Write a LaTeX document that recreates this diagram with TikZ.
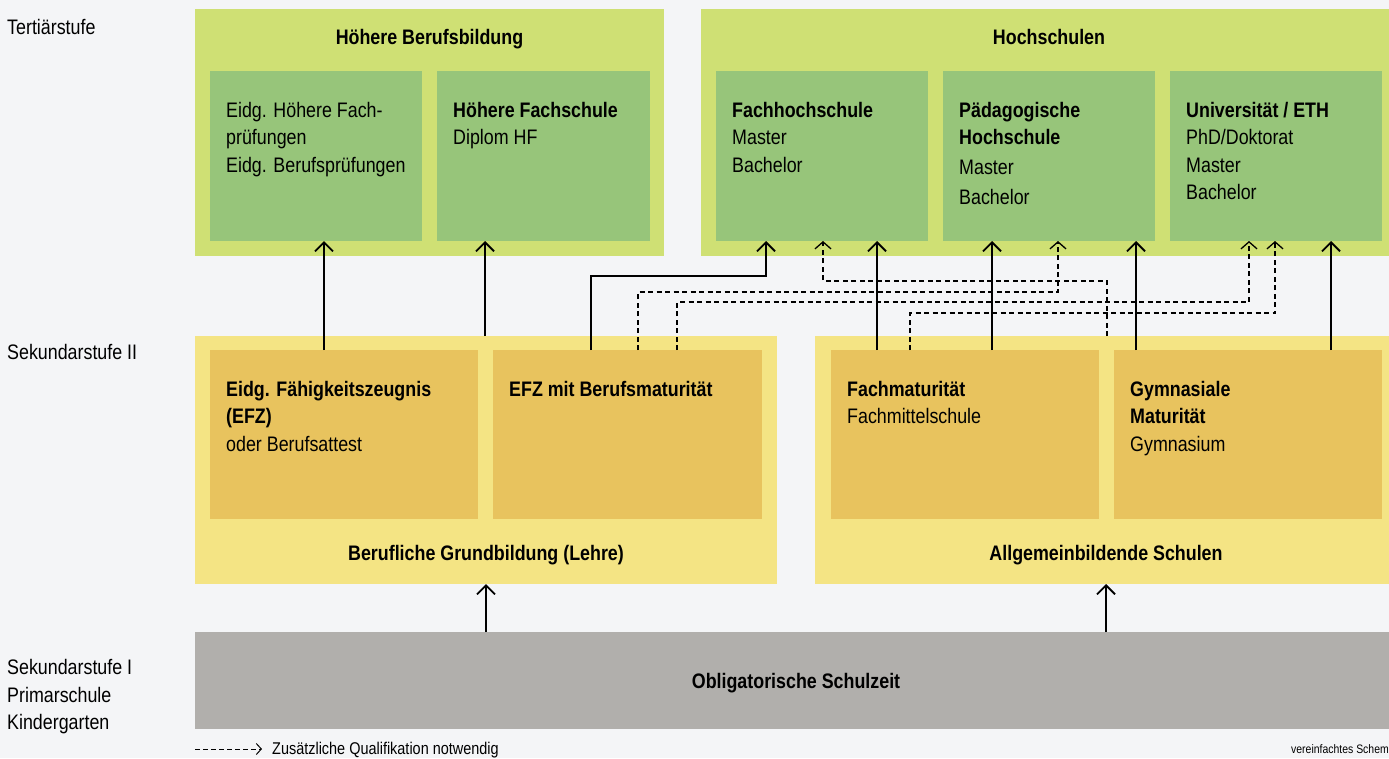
\documentclass[tikz,border=0pt]{standalone}
\usepackage{fontspec}
\setmainfont[FakeStretch=0.85]{Liberation Sans}
\usetikzlibrary{arrows.meta}

\definecolor{hgrund}{HTML}{F4F5F7}
\definecolor{tertaussen}{HTML}{CFE074}
\definecolor{tertinnen}{HTML}{97C57A}
\definecolor{sekaussen}{HTML}{F4E484}
\definecolor{sekinnen}{HTML}{E8C35E}
\definecolor{obligat}{HTML}{B1AFAC}

\begin{document}
\begin{tikzpicture}[x=1pt,y=-1pt,
    box/.style={anchor=north west,inner sep=0,outer sep=0},
    txt/.style={anchor=north west,inner sep=0,align=left,font=\fontsize{21}{27.5}\selectfont},
    titel/.style={anchor=base,inner sep=0,font=\fontsize{21}{27.5}\selectfont\bfseries},
    stufe/.style={anchor=north west,inner sep=0,align=left,font=\fontsize{21}{27.5}\selectfont},
    pfeil/.style={line width=1.8pt,-{Straight Barb[length=9pt,width=18pt,line width=1.8pt]}},
    zusatz/.style={line width=1.3pt,dash pattern=on 5pt off 3.5pt,-{Straight Barb[length=7pt,width=16pt,line width=1.3pt]}}]
    \useasboundingbox (0,0) rectangle (1389,758);
    \fill[hgrund] (0,0) rectangle (1389,758);

    % Stufen links
    \node[stufe] (tert) at (7,15.25) {\strut Tertiärstufe};
    \node[stufe] (sek2) at (7,340.25) {\strut Sekundarstufe II};
    \node[stufe] (sek1) at (7,655.25) {\strut Sekundarstufe I\\Primarschule\\Kindergarten};

    % Tertiaerstufe
    \node[box,fill=tertaussen,minimum width=469,minimum height=247] (hbb) at (195,9) {};
    \node[box,fill=tertinnen,minimum width=212,minimum height=170] (hfp) at (210,71) {};
    \node[box,fill=tertinnen,minimum width=213,minimum height=170] (hfs) at (437,71) {};
    \node[box,fill=tertaussen,minimum width=696,minimum height=247] (hs) at (701,9) {};
    \node[box,fill=tertinnen,minimum width=212,minimum height=170] (fh) at (716,71) {};
    \node[box,fill=tertinnen,minimum width=212,minimum height=170] (ph) at (943,71) {};
    \node[box,fill=tertinnen,minimum width=212,minimum height=170] (uni) at (1170,71) {};

    \node[titel] (hbbtitel) at ([yshift=-35.5]hbb.north) {Höhere Berufsbildung};
    \node[titel] (hstitel) at ([yshift=-35.5]hs.north) {Hochschulen};
    \node[txt] (hfptext) at ([xshift=16,yshift=-27]hfp.north west) {\strut Eidg. Höhere Fach-\\prüfungen\\Eidg. Berufsprüfungen};
    \node[txt] (hfstext) at ([xshift=16,yshift=-27]hfs.north west) {\strut\textbf{Höhere Fachschule}\\Diplom HF};
    \node[txt] (fhtext) at ([xshift=16,yshift=-27]fh.north west) {\strut\textbf{Fachhochschule}\\Master\\Bachelor};
    \node[txt] (phtext) at ([xshift=16,yshift=-27]ph.north west) {\strut\textbf{Pädagogische}\\\textbf{Hochschule}\\[2.5pt]Master\\[2.5pt]Bachelor};
    \node[txt] (unitext) at ([xshift=16,yshift=-27]uni.north west) {\strut\textbf{Universität / ETH}\\PhD/Doktorat\\Master\\Bachelor};

    % Sekundarstufe II
    \node[box,fill=sekaussen,minimum width=582,minimum height=248] (berufl) at (195,336) {};
    \node[box,fill=sekinnen,minimum width=268,minimum height=169] (efz) at (210,350) {};
    \node[box,fill=sekinnen,minimum width=269,minimum height=169] (efzbm) at (493,350) {};
    \node[box,fill=sekaussen,minimum width=582,minimum height=248] (allg) at (815,336) {};
    \node[box,fill=sekinnen,minimum width=268,minimum height=169] (fachmat) at (831,350) {};
    \node[box,fill=sekinnen,minimum width=268,minimum height=169] (gymn) at (1114,350) {};

    \node[titel] (beruftitel) at ([yshift=23.5]berufl.south) {Berufliche Grundbildung (Lehre)};
    \node[titel] (allgtitel) at ([yshift=23.5]allg.south) {Allgemeinbildende Schulen};
    \node[txt] (efztext) at ([xshift=16,yshift=-27]efz.north west) {\strut\textbf{Eidg. Fähigkeitszeugnis}\\\textbf{(EFZ)}\\oder Berufsattest};
    \node[txt] (efzbmtext) at ([xshift=16,yshift=-27]efzbm.north west) {\strut\textbf{EFZ mit Berufsmaturität}};
    \node[txt] (fachmattext) at ([xshift=16,yshift=-27]fachmat.north west) {\strut\textbf{Fachmaturität}\\Fachmittelschule};
    \node[txt] (gymntext) at ([xshift=16,yshift=-27]gymn.north west) {\strut\textbf{Gymnasiale}\\\textbf{Maturität}\\Gymnasium};

    % Obligatorische Schulzeit
    \node[box,fill=obligat,minimum width=1202,minimum height=97,text depth=0pt,font=\fontsize{21}{27.5}\selectfont\bfseries] (obl) at (195,632) {Obligatorische Schulzeit};

    % Pfeile
    \draw[pfeil] ([xshift=-20]efz.north) -- ([xshift=-20]efz.north |- hfp.south);
    \draw[pfeil] ([xshift=-1]berufl.north) -- ([xshift=-1]berufl.north |- hfs.south);
    \draw[pfeil] ([xshift=-36.5]efzbm.north) -- ++(0,-74) -| ([xshift=-56]fh.south);
    \draw[pfeil] ([xshift=-88]fachmat.north) -- ([xshift=-88]fachmat.north |- fh.south);
    \draw[pfeil] ([xshift=27]fachmat.north) -- ([xshift=27]fachmat.north |- ph.south);
    \draw[pfeil] ([xshift=-112]gymn.north) -- ([xshift=-112]gymn.north |- ph.south);
    \draw[pfeil] ([xshift=83]gymn.north) -- ([xshift=83]gymn.north |- uni.south);
    \draw[pfeil] (berufl.south |- obl.north) -- (berufl.south);
    \draw[pfeil] (allg.south |- obl.north) -- (allg.south);

    % zusaetzliche Qualifikation
    \draw[zusatz] ([xshift=1]allg.north) -- ++(0,-55) -| ([xshift=1]fh.south);
    \draw[zusatz] ([xshift=10.5]efzbm.north) -- ++(0,-58) -| ([xshift=9]ph.south);
    \draw[zusatz] ([xshift=49.5]efzbm.north) -- ++(0,-48) -| ([xshift=-27]uni.south);
    \draw[zusatz] ([xshift=-55]fachmat.north) -- ++(0,-37) -| ([xshift=-1]uni.south);

    % Legende
    \node[anchor=base west,inner sep=0,font=\fontsize{17}{20}\selectfont] (legende) at (272,754.5) {Zusätzliche Qualifikation notwendig};
    \coordinate (lgstart) at (195,749);
    \draw[zusatz,line width=1pt,dash pattern=on 4.5pt off 3.5pt,-{Straight Barb[length=5pt,width=11pt,line width=1pt]}] (lgstart) -- ([xshift=-10]lgstart -| legende.west);
    \node[anchor=base east,inner sep=0,font=\fontsize{12.3}{15}\selectfont] (schema) at (1389,753.4) {vereinfachtes Schem};
\end{tikzpicture}
\end{document}
